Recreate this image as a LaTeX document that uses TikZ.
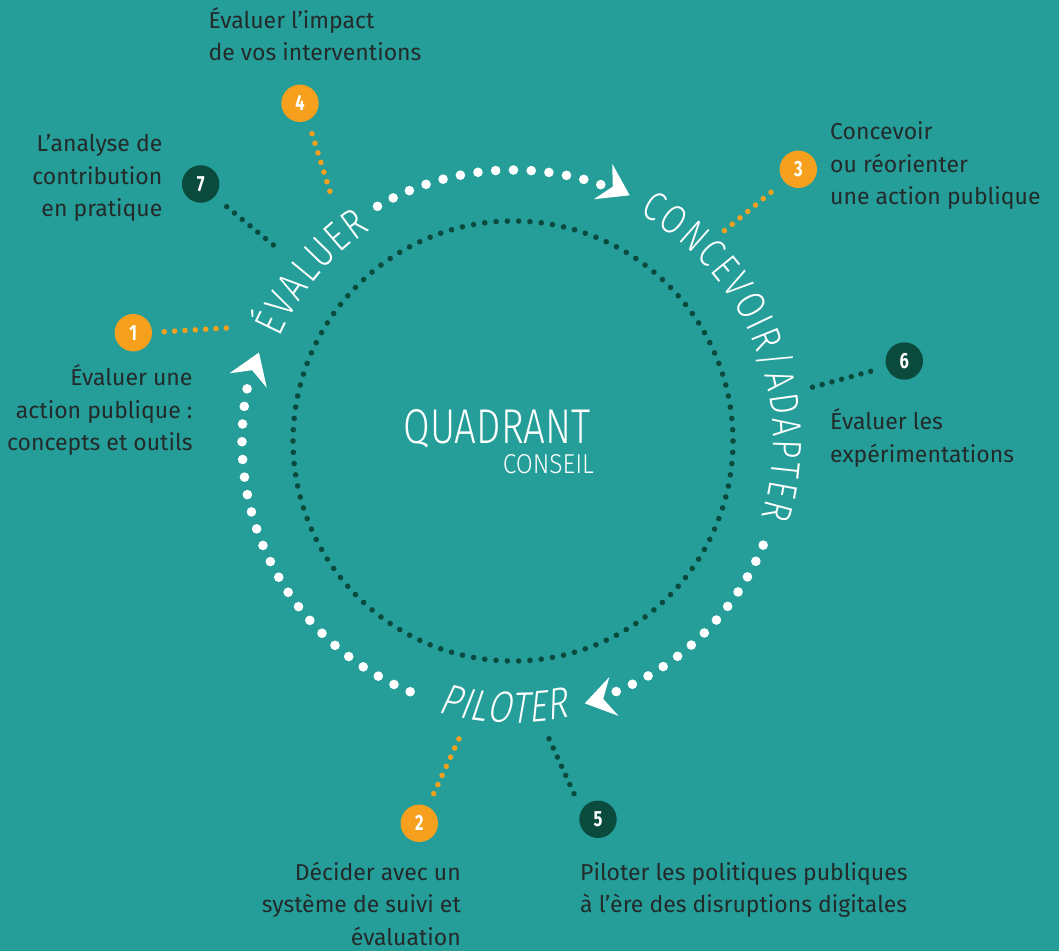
\documentclass[tikz,border=0pt]{standalone}
\usepackage{fontspec}
\usepackage{graphicx}
\setmainfont{Fira Sans}
\newfontfamily\arcfont{Fira Sans Light}[FakeStretch=0.8]
\newfontfamily\arcslant{Fira Sans Light}[FakeStretch=0.8,FakeSlant=0.2]
\newfontfamily\logofont{Fira Sans Light}
\newfontfamily\numfont{Fira Sans}[FakeStretch=0.75]
\usetikzlibrary{decorations.text,calc}
\definecolor{bgteal}{HTML}{259E9A}
\definecolor{dotorange}{HTML}{F6A01E}
\definecolor{darkgreen}{HTML}{0A4B3E}
\definecolor{labeltext}{HTML}{232A2A}
\begin{document}
\begin{tikzpicture}[x=1pt,y=1pt,
  numc/.style={circle, minimum size=37.4pt, inner sep=0pt, outer sep=0pt, text=white,
    font=\numfont\bfseries\fontsize{22}{22}\selectfont},
  orangenum/.style={numc, fill=dotorange},
  darknum/.style={numc, fill=darkgreen},
  conn/.style={line width=5.5pt, line cap=round, dash pattern=on 0pt off 10.05pt},
  orangeconn/.style={conn, draw=dotorange},
  darkconn/.style={conn, draw=darkgreen},
  lbl/.style={text=labeltext, inner sep=0pt, font=\fontsize{23}{32.5}\selectfont},
  ringdot/.style={fill=white},
  innerdot/.style={fill=darkgreen},
  arrowhd/.style={fill=white}
]
\fill[bgteal] (0,0) rectangle (1059,951);
\useasboundingbox (0,0) rectangle (1059,951);
\coordinate (C) at (513,510);

% inner dotted circle
\foreach \i in {0,...,121}
  \fill[innerdot] ($(C)+({\i*2.95082}:220)$) circle (2.8);

% outer white dotted arcs
\foreach \k in {0,...,13}
  \fill[ringdot] ($(C)+({120-\k*3.7615}:271)$) circle (4.8);
\foreach \k in {0,...,12}
  \fill[ringdot] ($(C)+({-22.6-\k*3.75}:271)$) circle (4.8);
\foreach \k in {0,...,21}
  \fill[ringdot] ($(C)+({247.7-\k*3.7524}:271)$) circle (4.8);

% arrowheads
\fill[arrowhd, shift={($(C)+(64.6:272)$)}, rotate=64.6-92]
  (0,0) -- (-30,20) -- (-19,0) -- (-30,-20) -- cycle;
\fill[arrowhd, shift={($(C)+(-74.7:272)$)}, rotate=-74.7-92]
  (0,0) -- (-30,20) -- (-19,0) -- (-30,-20) -- cycle;
\fill[arrowhd, shift={($(C)+(160.8:269)$)}, rotate=160.8-92]
  (0,0) -- (-30,20) -- (-19,0) -- (-30,-20) -- cycle;

% texts on the ring
\path[decorate, decoration={text along path,
  text={|\arcfont\fontsize{42}{42}\selectfont\color{white}|ÉVALUER},
  text align={fit to path}}]
  ($(C)+(156:255)$) arc[start angle=156, end angle=124, radius=255];
\path[decorate, decoration={text along path,
  text={|\arcfont\fontsize{41}{41}\selectfont\color{white}|CONCEVOIR/ADAPTER},
  text align={fit to path}}]
  ($(C)+(61:260)$) arc[start angle=61, end angle=-17, radius=260];
\path[decorate, decoration={text along path,
  text={|\arcslant\fontsize{44}{44}\selectfont\color{white}|PILOTER},
  text align={fit to path}}]
  ($(C)+(-105.5:282)$) arc[start angle=-105.5, end angle=-78.5, radius=282];

% centre logo
\node[anchor=base west, inner sep=0pt, text=white] (quad) at (403.3,507.7)
  {\resizebox{187pt}{34pt}{\logofont QUADRANT}};
\node[anchor=base west, inner sep=0pt, text=white] (cons) at (502.7,477)
  {\resizebox{91pt}{19pt}{\logofont CONSEIL}};

% numbered circles
\node[orangenum] (n1) at (133.3,618.3) {1};
\node[orangenum] (n2) at (419.3,127.7) {2};
\node[orangenum] (n3) at (798.3,781.7) {3};
\node[orangenum] (n4) at (300,847.7) {4};
\node[darknum] (n5) at (598,131.7) {5};
\node[darknum] (n6) at (904.3,590) {6};
\node[darknum] (n7) at (200.7,767) {7};

% connectors
\coordinate (s1) at (164.3,619.3); \coordinate (e1) at (226.7,623);
\coordinate (s2) at (433.7,157.3); \coordinate (e2) at (459,212.3);
\coordinate (s3) at (771,758.7);   \coordinate (e3) at (724,720);
\coordinate (s4) at (312,817.3);   \coordinate (e4) at (330,759.3);
\coordinate (s5) at (574,157.3);   \coordinate (e5) at (549,212.3);
\coordinate (s6) at (870.7,579.7); \coordinate (e6) at (812,563.7);
\coordinate (s7) at (226.7,744.3); \coordinate (e7) at (273.7,705.7);
\draw[orangeconn, dash pattern=on 0pt off 10.35pt] (s1) -- (e1);
\draw[orangeconn] (s2) -- (e2);
\draw[orangeconn] (s3) -- (e3);
\draw[orangeconn] (s4) -- (e4);
\draw[darkconn] (s5) -- (e5);
\draw[darkconn] (s6) -- (e6);
\draw[darkconn] (s7) -- (e7);

% labels (anchor = baseline of the last line)
\node[lbl, anchor=base west, align=left] (t4) at (208.3,890.2)
  {Évaluer l’impact\\de vos interventions};
\node[lbl, anchor=base east, align=right] (t7) at (162.5,734.3)
  {L’analyse de\\contribution\\en pratique};
\node[lbl, anchor=base east, align=right] (t1) at (192.7,500)
  {Évaluer une\\action publique :\\concepts et outils};
\node[lbl, anchor=base west, align=left] (t3) at (830,746)
  {Concevoir\\ou réorienter\\une action publique};
\node[lbl, anchor=base west, align=left] (t6) at (830,488.5)
  {Évaluer les\\expérimentations};
\node[lbl, anchor=base east, align=right] (t2) at (461,6)
  {Décider avec un\\système de suivi et\\évaluation};
\node[lbl, anchor=base west, align=left] (t5) at (580,38.5)
  {Piloter les politiques publiques\\à l’ère des disruptions digitales};
\end{tikzpicture}
\end{document}
